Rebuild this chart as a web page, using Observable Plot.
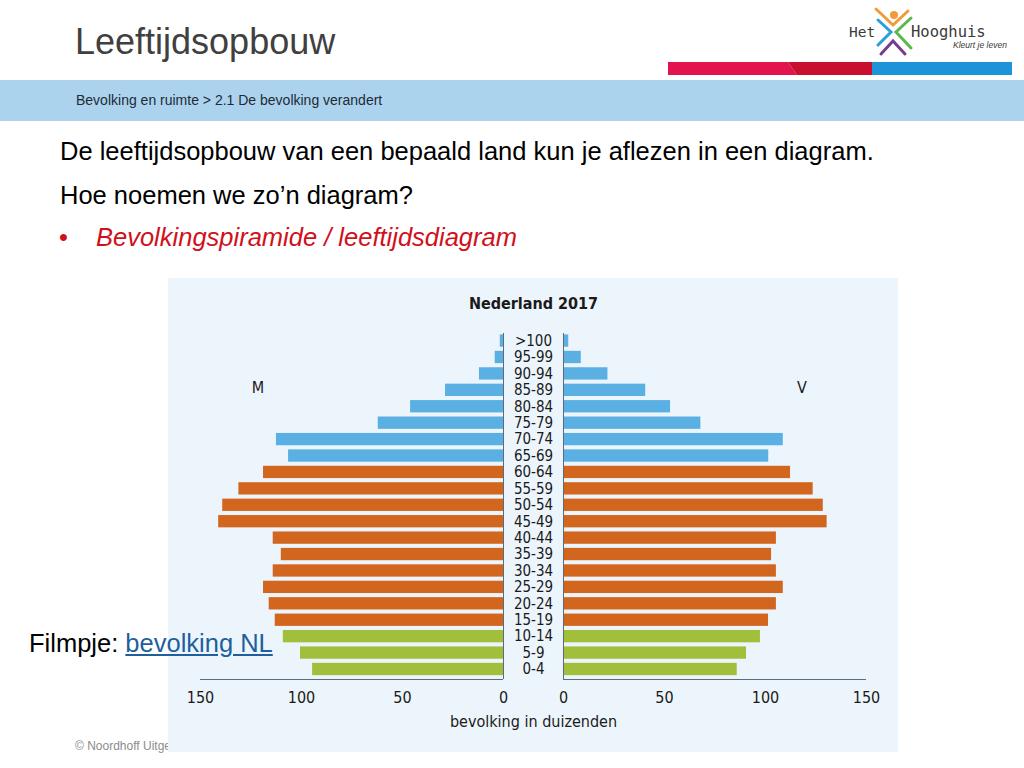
<!DOCTYPE html>
<html>
<head>
<meta charset="utf-8">
<script src="https://cdn.jsdelivr.net/npm/d3@7"></script>
<script src="https://cdn.jsdelivr.net/npm/@observablehq/plot@0.6"></script>
<style>
  html, body { margin: 0; padding: 0; background: #fff; }
  body { width: 1024px; height: 768px; position: relative; overflow: hidden; font-family: "Liberation Sans", Arial, sans-serif; }
  .abs { position: absolute; white-space: nowrap; line-height: 1; }
  #chart { position: absolute; left: 168px; top: 278px; width: 730px; height: 474px; }
  #chart svg { display: block; }
</style>
</head>
<body>
<div class="abs" style="left:75px; top:24px; font-size:36px; color:#404040;">Leeftijdsopbouw</div>

<svg class="abs" style="left:660px; top:0px;" width="364" height="80" viewBox="660 0 364 80">
  <circle cx="894" cy="15" r="4" fill="#f39a3c"/>
  <polyline points="876,9 893,25 908,11" fill="none" stroke="#f39a3c" stroke-width="3" stroke-linecap="round"/>
  <polyline points="878,20 891,32 878,45" fill="none" stroke="#2aa0d8" stroke-width="3" stroke-linecap="round"/>
  <polyline points="911,18 896,32 911,48" fill="none" stroke="#5cb84a" stroke-width="3" stroke-linecap="round"/>
  <polyline points="881,54 893,41 905,54" fill="none" stroke="#7a3b8f" stroke-width="3" stroke-linecap="round"/>
  <text x="849" y="37" font-family="DejaVu Sans Mono" font-size="14.5" fill="#3a3a3a">Het</text>
  <text x="911" y="37" font-family="DejaVu Sans Mono" font-size="15.5" fill="#3a3a3a">Hooghuis</text>
  <text x="953" y="48" font-family="Liberation Sans" font-style="italic" font-size="8.5" fill="#3a3a3a">Kleurt je leven</text>
  <polygon points="668,62 788,62 797,75 668,75" fill="#e2134f"/>
  <polygon points="788,62 872,62 872,75 797,75" fill="#c8102e"/>
  <rect x="872" y="62" width="140" height="13" fill="#1d93d8"/>
</svg>

<div class="abs" style="left:0; top:80px; width:1024px; height:41px; background:#acd3ee;"></div>
<div class="abs" style="left:76px; top:93px; font-size:14px; color:#1e2a36;">Bevolking en ruimte &gt; 2.1 De bevolking verandert</div>

<div class="abs" style="left:60px; top:139px; font-size:25.5px; color:#000;">De leeftijdsopbouw van een bepaald land kun je aflezen in een diagram.</div>
<div class="abs" style="left:60px; top:183px; font-size:25.5px; color:#000;">Hoe noemen we zo’n diagram?</div>
<div class="abs" style="left:59px; top:225px; font-size:25.5px; color:#d0101a;">•</div>
<div class="abs" style="left:96px; top:225px; font-size:25.5px; color:#d0101a; font-style:italic;">Bevolkingspiramide / leeftijdsdiagram</div>

<div class="abs" style="left:75px; top:740px; font-size:12px; color:#8c8c8c;">© Noordhoff Uitgevers</div>

<div id="chart"></div>

<div class="abs" style="left:29px; top:631px; font-size:25.5px; color:#000;">Filmpje: <span style="color:#1f5f9e; text-decoration:underline;">bevolking NL</span></div>

<script>
// Age groups, top to bottom as in the picture
const ages = [">100","95-99","90-94","85-89","80-84","75-79","70-74","65-69","60-64","55-59","50-54","45-49","40-44","35-39","30-34","25-29","20-24","15-19","10-14","5-9","0-4"];
// Population in thousands
const men   = [1.6, 4.1, 11.9, 28.7, 46, 62, 112.4, 106.4, 118.8, 131, 139, 141, 114, 110, 114, 118.8, 116, 113, 109, 100.5, 94.5];
const women = [2.6, 8.8, 22, 40.7, 53, 68, 108.8, 101.6, 112.4, 123.6, 128.6, 130.5, 105.4, 103, 105.4, 108.8, 105.4, 101.5, 97.5, 90.6, 86];
const groups = ["65+","65+","65+","65+","65+","65+","65+","65+","15-64","15-64","15-64","15-64","15-64","15-64","15-64","15-64","15-64","15-64","0-14","0-14","0-14"];
const groupNames = ["65+", "15-64", "0-14"];
const groupColors = ["#5aafe3", "#d2661f", "#a1bf3a"];
const ticks = [0, 50, 100, 150];

const G = 14.85;          // half-gap between the two halves (in value units)
const H = 0.375;          // half bar thickness (in row units)
const axisRow = -0.61, tickRow = -1.7, titleRow = -3.17, headRow = 22.29, sexRow = 17.17, topRow = 20.46;

const rows = ages.map((a, k) => ({age: a, row: ages.length - 1 - k, m: men[k], v: women[k], g: groups[k]}));

const txt = {fontFamily: "'DejaVu Sans Condensed', 'DejaVu Sans', sans-serif", fill: "#1a1a1a"};

const plot = Plot.plot({
  width: 730, height: 474,
  marginTop: 0, marginBottom: 0, marginLeft: 0, marginRight: 0,
  x: {domain: [-180.69, 180.69], axis: null},
  y: {domain: [-5.055, 23.81], axis: null},
  color: {domain: groupNames, range: groupColors},
  style: {background: "#edf5fc", overflow: "visible"},
  marks: [
    Plot.rect(rows, {x1: -G, x2: d => -(G + d.m), y1: d => d.row - H, y2: d => d.row + H, fill: "g"}),
    Plot.rect(rows, {x1: G, x2: d => G + d.v, y1: d => d.row - H, y2: d => d.row + H, fill: "g"}),
    Plot.ruleX([-G, G], {y1: axisRow, y2: topRow, stroke: "#5d6b78", strokeWidth: 1}),
    Plot.ruleY([{a: -(G + 150), b: -G}, {a: G, b: G + 150}], {x1: "a", x2: "b", y: axisRow, stroke: "#5d6b78", strokeWidth: 1}),
    Plot.text(rows, {x: 0, y: "row", text: "age", fontSize: 15, lineAnchor: "middle", ...txt, fontStretch: "condensed"}),
    Plot.text(ticks, {x: d => -(G + d), y: tickRow, text: d => String(d), fontSize: 16, lineAnchor: "middle", ...txt}),
    Plot.text(ticks, {x: d => G + d, y: tickRow, text: d => String(d), fontSize: 16, lineAnchor: "middle", ...txt}),
    Plot.text(["bevolking in duizenden"], {x: 0, y: titleRow, text: d => d, fontSize: 16, lineAnchor: "middle", ...txt}),
    Plot.text(["Nederland 2017"], {x: 0, y: headRow, text: d => d, fontSize: 16, fontWeight: "bold", lineAnchor: "middle", ...txt}),
    Plot.text(["M"], {x: -(G + 121.5), y: sexRow, text: d => d, fontSize: 16, lineAnchor: "middle", ...txt}),
    Plot.text(["V"], {x: G + 118, y: sexRow, text: d => d, fontSize: 16, lineAnchor: "middle", ...txt})
  ]
});
document.getElementById("chart").appendChild(plot);
</script>
</body>
</html>
